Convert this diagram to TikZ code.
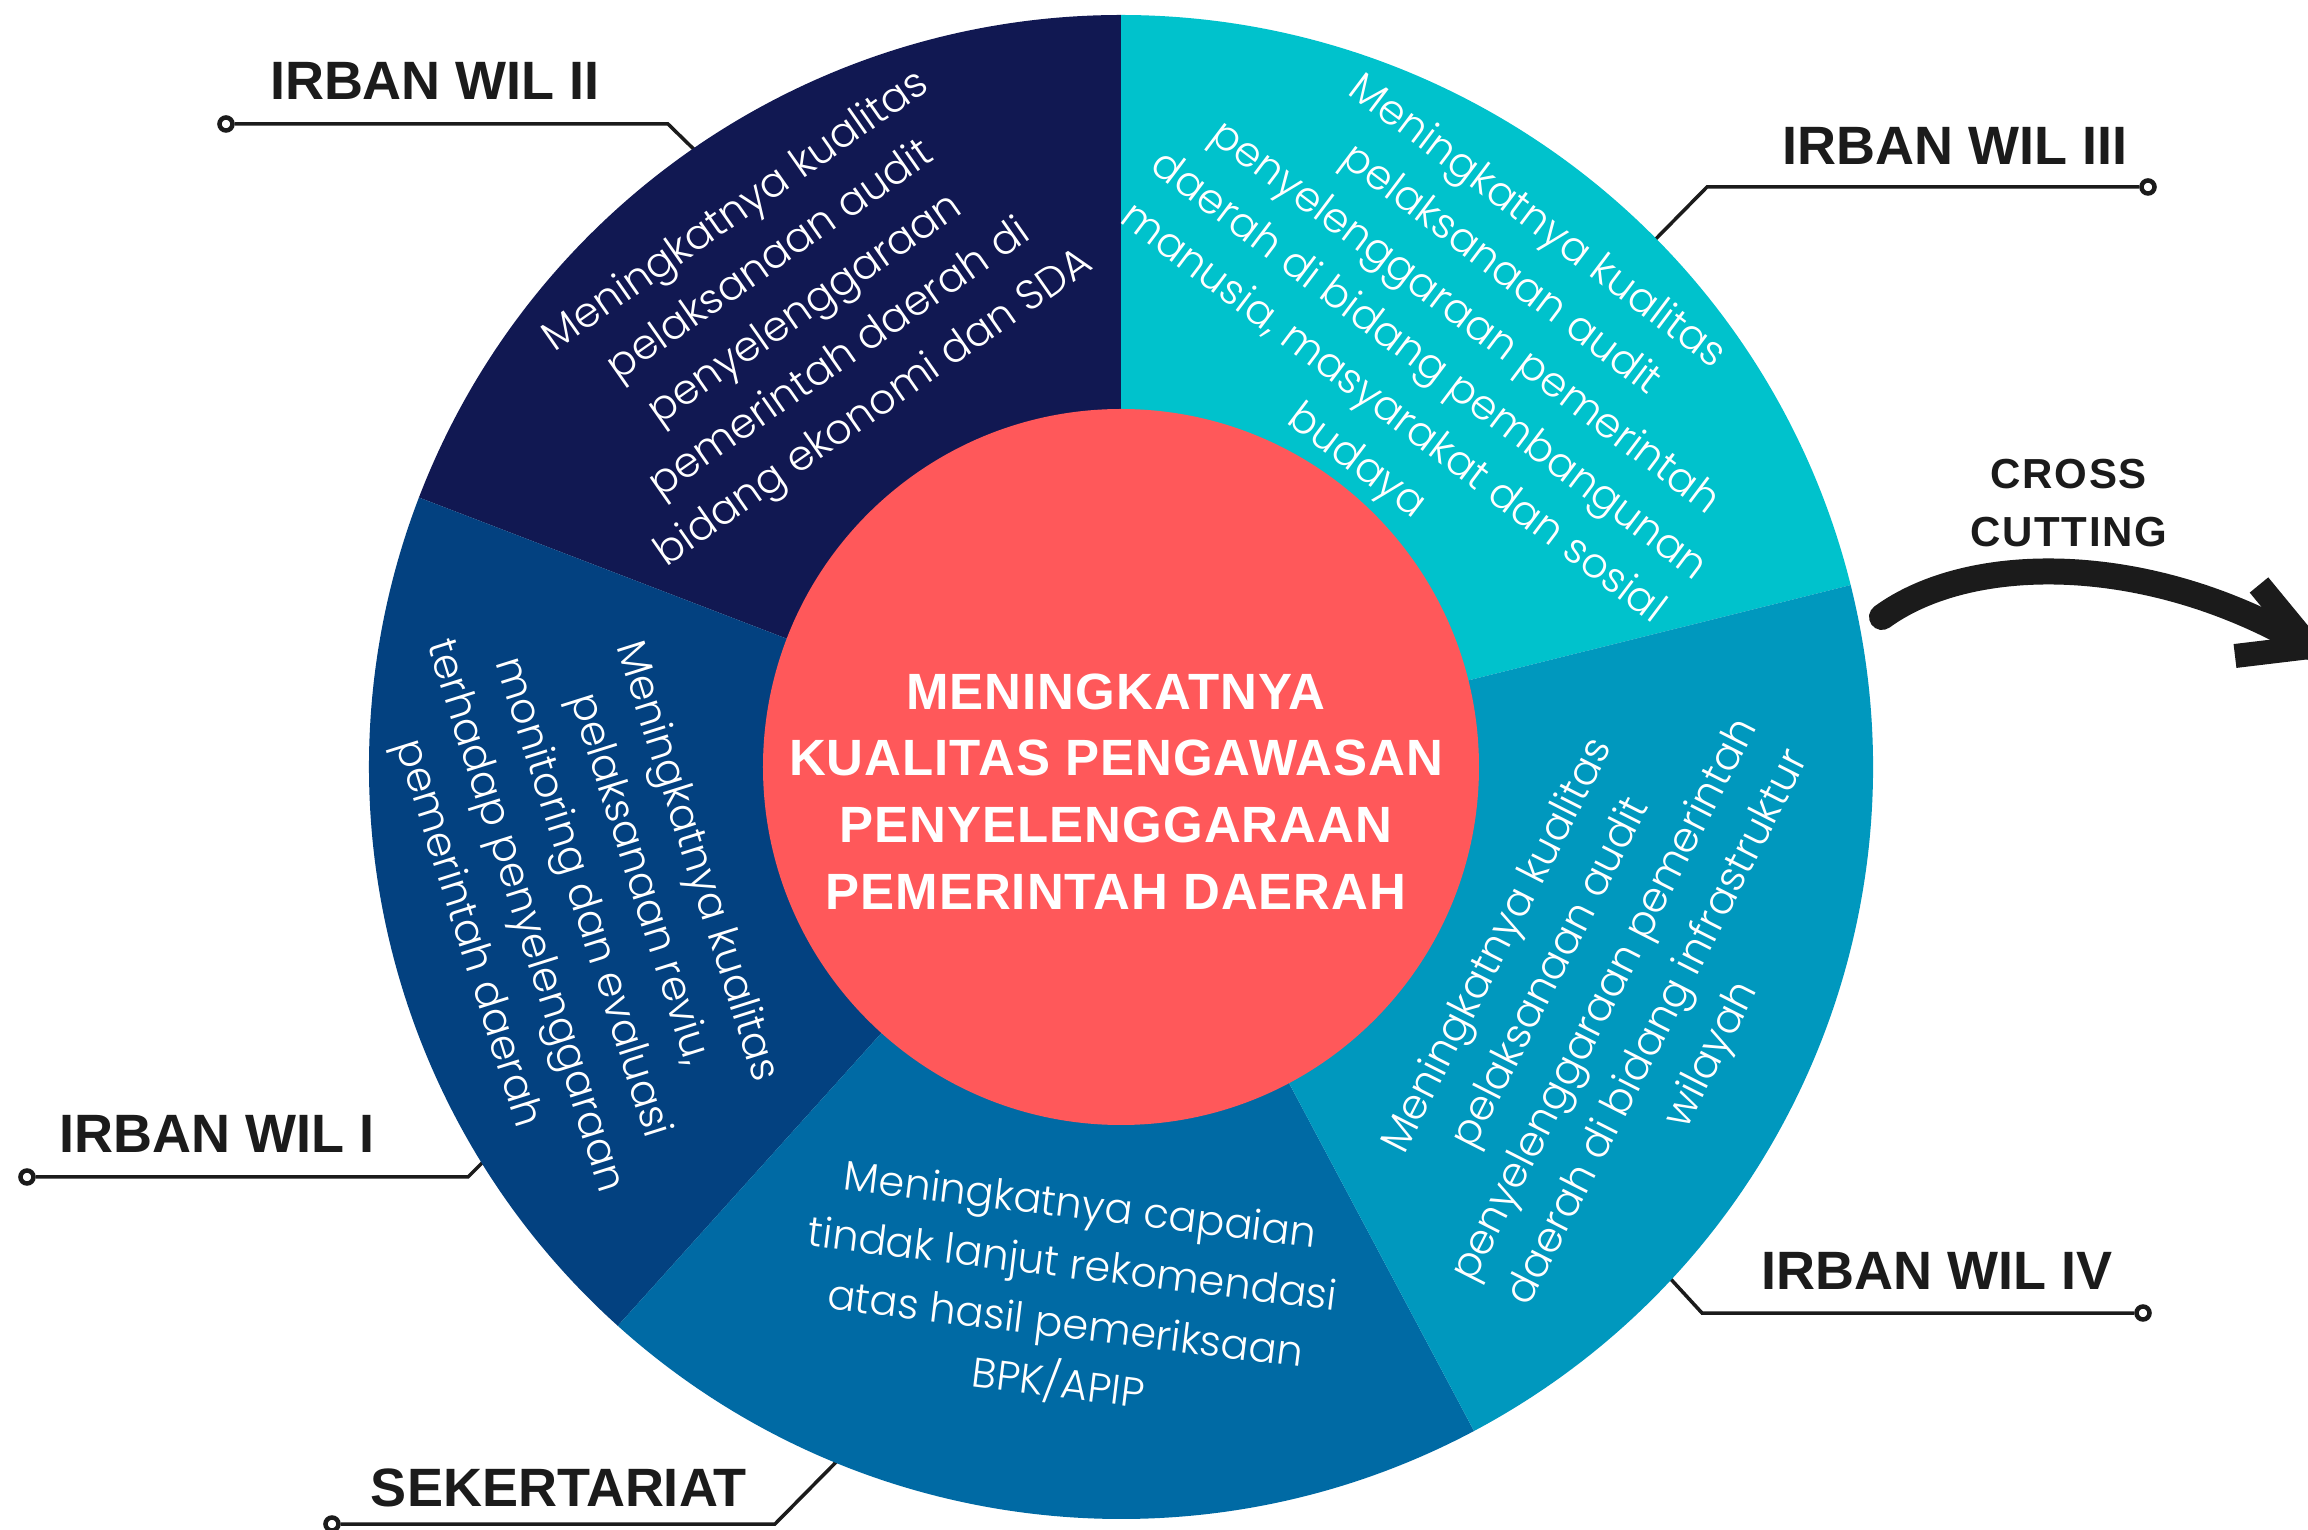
\documentclass[tikz,border=0pt]{standalone}
\usepackage{fontspec}
\setmainfont{Liberation Sans}
\IfFontExistsTF{Poppins Light}{\newfontfamily\sectfont{Poppins Light}}{%
  \IfFontExistsTF{Lato Light}{\newfontfamily\sectfont{Lato Light}}{\newfontfamily\sectfont{Poppins}}}
\newfontfamily\titlefont{Liberation Sans}[LetterSpace=2]
\newfontfamily\ccfont{Liberation Sans}[LetterSpace=4]
\definecolor{cII}{HTML}{111852}
\definecolor{cIII}{HTML}{00C2CC}
\definecolor{cIV}{HTML}{0098BE}
\definecolor{cSEK}{HTML}{006AA4}
\definecolor{cI}{HTML}{034180}
\definecolor{cRed}{HTML}{FF585A}
\definecolor{ink}{HTML}{1B1B1B}
\begin{document}
\begin{tikzpicture}[x=1pt,y=1pt,
  lab/.style={font=\fontsize{54}{60}\selectfont\bfseries, text=ink, inner sep=0pt, anchor=base},
  cc/.style={font=\ccfont\fontsize{42}{50}\selectfont\bfseries, text=ink, inner sep=0pt, anchor=base},
  sect/.style={font=\sectfont\fontsize{41.5}{60}\selectfont, text=white, align=center, inner sep=0pt},
  dotnode/.style={circle, draw=ink, line width=4.5pt, fill=white, minimum size=13pt, inner sep=0pt},
  conn/.style={draw=ink, line width=3.5pt, line join=miter},
]
\useasboundingbox (-1121,-763) rectangle (1187,767);
\clip (-1121,-763) rectangle (1187,767);
\fill[white] (-1121,-763) rectangle (1187,767);

% connectors (drawn below the wheel)
\node[dotnode] (d2) at (-895,643) {};
\coordinate (k2) at (-453,643);
\coordinate (e2) at (-410,601);
\draw[conn] (d2) -- (k2) -- (e2);

\node[dotnode] (d3) at (1027,580) {};
\coordinate (k3) at (586,580);
\coordinate (e3) at (520,513);
\draw[conn] (d3) -- (k3) -- (e3);

\node[dotnode] (d1) at (-1094,-410) {};
\coordinate (k1) at (-653,-410);
\coordinate (e1) at (-625,-382);
\draw[conn] (d1) -- (k1) -- (e1);

\node[dotnode] (ds) at (-789,-757) {};
\coordinate (ks) at (-346,-757);
\coordinate (es) at (-270,-680);
\draw[conn] (ds) -- (ks) -- (es);

\node[dotnode] (d4) at (1022,-546) {};
\coordinate (k4) at (581,-546);
\coordinate (e4) at (535,-496);
\draw[conn] (d4) -- (k4) -- (e4);

% wheel
\fill[cIII] (0,0) -- (14:752) arc[start angle=14, end angle=90, radius=752] -- cycle;
\fill[cII] (0,0) -- (90:752) arc[start angle=90, end angle=159, radius=752] -- cycle;
\fill[cI] (0,0) -- (159:752) arc[start angle=159, end angle=228, radius=752] -- cycle;
\fill[cSEK] (0,0) -- (228:752) arc[start angle=228, end angle=298, radius=752] -- cycle;
\fill[cIV] (0,0) -- (298:752) arc[start angle=298, end angle=374, radius=752] -- cycle;
\node[circle, fill=cRed, minimum size=716pt, inner sep=0pt] (core) at (0,0) {};

\node[font=\titlefont\fontsize{51}{66.7}\selectfont\bfseries, text=white, align=center, inner sep=0pt] (title) at (-5,-24.5)
  {MENINGKATNYA\\KUALITAS PENGAWASAN\\PENYELENGGARAAN\\PEMERINTAH DAERAH};

% sector texts
\node[sect, rotate=35] (t2) at (-315,456)
  {Meningkatnya kualitas\\pelaksanaan audit\\penyelenggaraan\\pemerintah daerah di\\bidang ekonomi dan SDA};
\node[sect, rotate=-37] (t3) at (325,424)
  {Meningkatnya kualitas\\pelaksanaan audit\\penyelenggaraan pemerintah\\daerah di bidang pembangunan\\manusia, masyarakat dan sosial\\budaya};
\node[sect, rotate=63] (t4) at (485,-234)
  {Meningkatnya kualitas\\pelaksanaan audit\\penyelenggaraan pemerintah\\daerah di bidang infrastruktur\\wilayah};
\node[sect, rotate=-72.5] (t1) at (-540,-131)
  {Meningkatnya kualitas\\pelaksanaan reviu,\\monitoring dan evaluasi\\terhadap penyelenggaraan\\pemerintah daerah};
\node[sect, rotate=-7] (ts) at (-52,-529)
  {Meningkatnya capaian\\tindak lanjut rekomendasi\\atas hasil pemeriksaan\\BPK/APIP};

% labels
\node[lab] (l2) at (-686,667) {IRBAN WIL II};
\node[lab] (l3) at (834,602) {IRBAN WIL III};
\node[lab] (l1) at (-904,-386) {IRBAN WIL I};
\node[lab] (ls) at (-562,-739) {SEKERTARIAT};
\node[lab] (l4) at (816,-522) {IRBAN WIL IV};

% cross cutting
\node[cc] (cc1) at (948,278) {CROSS};
\node[cc] (cc2) at (948,220) {CUTTING};
\coordinate (atail) at (761,150);
\coordinate (ahead) at (1189,120);
\coordinate (ab1) at (1138,182);
\coordinate (ab2) at (1114,111);
\draw[ink, line width=26pt, line cap=round] (atail) .. controls (850,215) and (1030,215) .. (ahead);
\draw[ink, line width=24pt, line join=miter] (ab1) -- (ahead) -- (ab2);
\end{tikzpicture}
\end{document}
